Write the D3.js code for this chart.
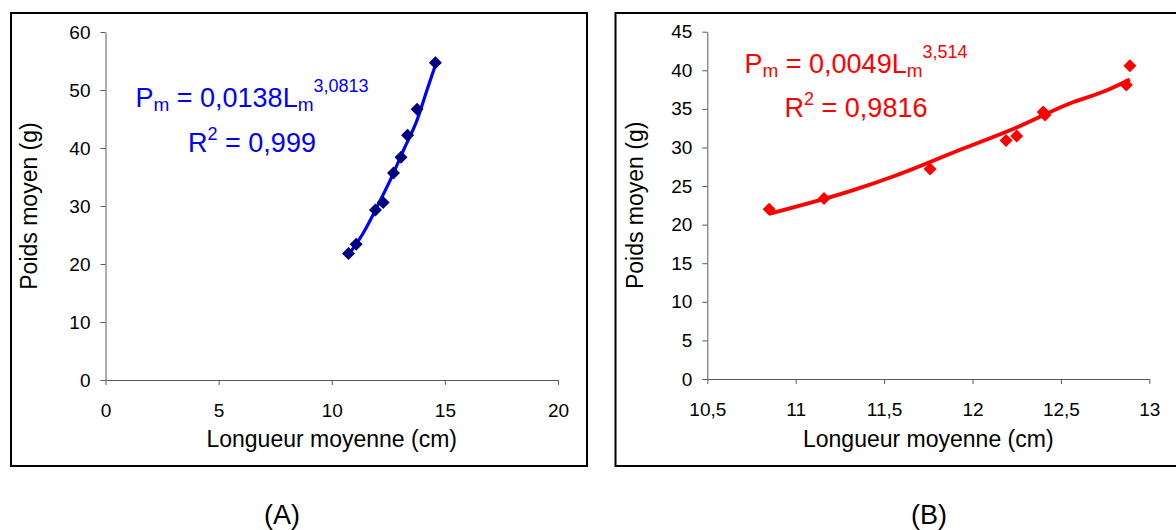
<!DOCTYPE html>
<html>
<head>
<meta charset="utf-8">
<script src="https://cdn.jsdelivr.net/npm/d3@7"></script>
<style>
  body { margin: 0; background: #fff; }
  svg { display: block; font-family: Arial, "Liberation Sans", sans-serif; }
</style>
</head>
<body>
<div id="chart"></div>
<script>
// Panel A: poids moyen vs longueur moyenne
const lengthA = [10.74, 11.08, 11.93, 12.27, 12.73, 13.06, 13.35, 13.77, 14.58];
const weightA = [21.8, 23.4, 29.3, 30.6, 35.7, 38.4, 42.2, 46.7, 54.7];
const fitLengthA = [10.74, 11.34, 12.15, 12.59, 13.18, 13.77, 14.21, 14.58];
const fitWeightA = [21.6, 25.0, 31.0, 34.5, 39.7, 44.8, 50.0, 54.3];
const xTicksA = [0, 5, 10, 15, 20];
const yTicksA = [0, 10, 20, 30, 40, 50, 60];

// Panel B
const lengthB = [10.85, 11.16, 11.76, 12.19, 12.25, 12.40, 12.41, 12.87, 12.89];
const weightB = [22.0, 23.4, 27.2, 30.9, 31.5, 34.6, 34.2, 38.1, 40.6];
const fitLengthB = [10.85, 11.33, 11.57, 11.93, 12.25, 12.55, 12.76, 12.89];
const fitWeightB = [21.4, 24.5, 26.4, 29.7, 32.6, 35.7, 37.4, 38.8];
const xTicksB = [10.5, 11, 11.5, 12, 12.5, 13];
const yTicksB = [0, 5, 10, 15, 20, 25, 30, 35, 40, 45];

const width = 1176;
const height = 530;

const fr = d3.formatLocale({ decimal: ",", thousands: " ", grouping: [3], currency: ["", ""] });
const fmt = fr.format(".1~f");

const svg = d3.select("#chart")
  .append("svg")
  .attr("width", width)
  .attr("height", height);

svg.append("rect").attr("width", width).attr("height", height).attr("fill", "#fff");

const diamond = (r) => `M0,${-r}L${r},0L0,${r}L${-r},0Z`;

function drawPanel(opt) {
  const g = svg.append("g");

  g.append("rect")
    .attr("x", opt.frame[0]).attr("y", opt.frame[1])
    .attr("width", opt.frame[2]).attr("height", opt.frame[3])
    .attr("fill", "none").attr("stroke", "#000").attr("stroke-width", 2);

  const x = d3.scaleLinear().domain(opt.xDomain).range(opt.xRange);
  const y = d3.scaleLinear().domain(opt.yDomain).range(opt.yRange);

  const yAxis = g.append("g")
    .attr("transform", `translate(${opt.xRange[0]},0)`)
    .call(d3.axisLeft(y).tickValues(opt.yTicks).tickFormat(fmt).tickSize(5).tickSizeOuter(0).tickPadding(10));
  const xAxis = g.append("g")
    .attr("transform", `translate(0,${opt.yRange[0]})`)
    .call(d3.axisBottom(x).tickValues(opt.xTicks).tickFormat(fmt).tickSize(5).tickSizeOuter(0).tickPadding(19));

  [xAxis, yAxis].forEach((a) => {
    a.select(".domain").attr("stroke", "#5a5a5a");
    a.selectAll(".tick line").attr("stroke", "#5a5a5a");
    a.selectAll(".tick text")
      .attr("fill", "#000")
      .attr("font-size", 19)
      .attr("font-family", "Arial, 'Liberation Sans', sans-serif");
  });

  g.append("text")
    .attr("x", (opt.xRange[0] + opt.xRange[1]) / 2)
    .attr("y", 447)
    .attr("text-anchor", "middle")
    .attr("font-size", 23)
    .text("Longueur moyenne (cm)");

  g.append("text")
    .attr("transform", `translate(${opt.yTitleX},${(opt.yRange[0] + opt.yRange[1]) / 2}) rotate(-90)`)
    .attr("text-anchor", "middle")
    .attr("font-size", 23)
    .text("Poids moyen (g)");

  // trend line
  const fit = opt.fitX.map((v, i) => [v, opt.fitY[i]]);
  g.append("path")
    .datum(fit)
    .attr("fill", "none")
    .attr("stroke", opt.lineColor)
    .attr("stroke-width", opt.lineWidth)
    .attr("stroke-linejoin", "round")
    .attr("d", d3.line().x((d) => x(d[0])).y((d) => y(d[1])).curve(d3.curveMonotoneX));

  // points
  const pts = opt.dataX.map((v, i) => [v, opt.dataY[i]]);
  g.append("g")
    .selectAll("path")
    .data(pts)
    .join("path")
    .attr("transform", (d) => `translate(${x(d[0])},${y(d[1])})`)
    .attr("d", diamond(6.5))
    .attr("fill", opt.markerColor);

  // equation
  const eq = g.append("text")
    .attr("x", opt.eqX).attr("y", opt.eqY)
    .attr("text-anchor", "middle")
    .attr("fill", opt.textColor)
    .attr("font-size", 27);
  eq.append("tspan").text("P");
  eq.append("tspan").attr("font-size", 19).attr("dy", 4).text("m");
  eq.append("tspan").attr("dy", -4).text(" = " + opt.coef + "L");
  eq.append("tspan").attr("font-size", 19).attr("dy", 4).text("m");
  eq.append("tspan").attr("font-size", 18).attr("dy", -19).text(opt.expo);

  const r2 = g.append("text")
    .attr("x", opt.eqX).attr("y", opt.eqY + opt.r2Gap)
    .attr("text-anchor", "middle")
    .attr("fill", opt.textColor)
    .attr("font-size", 27);
  r2.append("tspan").text("R");
  r2.append("tspan").attr("font-size", 18).attr("dy", -12).text("2");
  r2.append("tspan").attr("dy", 12).text(" = " + opt.r2);

  svg.append("text")
    .attr("x", opt.captionX).attr("y", 524)
    .attr("text-anchor", "middle")
    .attr("font-size", 27)
    .text(opt.caption);
}

drawPanel({
  frame: [11, 13, 576, 453],
  xDomain: [0, 20], xRange: [105.5, 558],
  yDomain: [0, 60], yRange: [380, 32],
  xTicks: xTicksA, yTicks: yTicksA,
  dataX: lengthA, dataY: weightA,
  fitX: fitLengthA, fitY: fitWeightA,
  lineColor: "#0000ff", lineWidth: 3.2, markerColor: "#000080",
  textColor: "#0000ff",
  eqX: 252, eqY: 107, r2Gap: 45,
  coef: "0,0138", expo: "3,0813", r2: "0,999",
  yTitleX: 37, caption: "(A)", captionX: 282
});

drawPanel({
  frame: [615.5, 13, 600, 453],
  xDomain: [10.5, 13], xRange: [707.3, 1149.3],
  yDomain: [0, 45], yRange: [379, 31.7],
  xTicks: xTicksB, yTicks: yTicksB,
  dataX: lengthB, dataY: weightB,
  fitX: fitLengthB, fitY: fitWeightB,
  lineColor: "#ff0000", lineWidth: 3.8, markerColor: "#ff0000",
  textColor: "#ff0000",
  eqX: 856, eqY: 73, r2Gap: 44,
  coef: "0,0049", expo: "3,514", r2: "0,9816",
  yTitleX: 643, caption: "(B)", captionX: 929
});
</script>
</body>
</html>
